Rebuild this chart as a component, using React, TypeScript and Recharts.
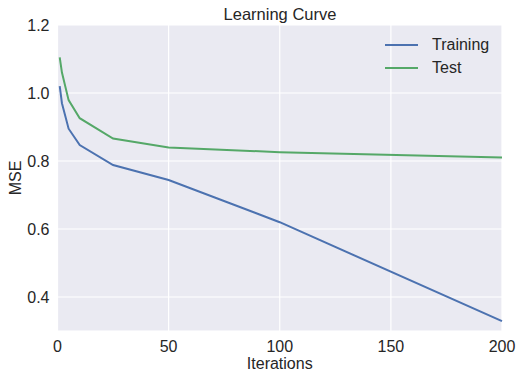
import { LineChart, Line, XAxis, YAxis, CartesianGrid } from "recharts";

const iterations = [1, 2, 5, 10, 25, 50, 100, 200];
const trainingMse = [1.02, 0.97, 0.895, 0.847, 0.788, 0.744, 0.62, 0.329];
const testMse = [1.105, 1.06, 0.979, 0.926, 0.866, 0.84, 0.826, 0.81];
const xTicks = [0, 50, 100, 150, 200];
const yTicks = [0.4, 0.6, 0.8, 1.0, 1.2];
const seriesNames = ["Training", "Test"];

const data = iterations.map((it, i) => ({
  iter: it,
  training: trainingMse[i],
  test: testMse[i],
}));

const FONT = "'Liberation Sans', Arial, sans-serif";
const BLUE = "#4C72B0";
const GREEN = "#55A868";
const TEXT = "#262626";

const App = () => {
  const colors = [BLUE, GREEN];
  return (
    <div style={{ position: "absolute", left: 0, top: 0, width: 523, height: 380, background: "#fff" }}>
      <LineChart
        width={523}
        height={380}
        data={data}
        margin={{ top: 25, right: 21, bottom: 0, left: 0 }}
      >
        <CartesianGrid fill="#EAEAF2" stroke="#ffffff" strokeWidth={1.2} />
        <XAxis
          dataKey="iter"
          type="number"
          domain={[0, 200]}
          ticks={xTicks}
          axisLine={false}
          tickLine={false}
          height={49}
          tick={{ fontFamily: FONT, fontSize: 16, fill: TEXT }}
          tickMargin={4}
          label={{
            value: "Iterations",
            position: "insideBottom",
            offset: 11,
            style: { fontFamily: FONT, fontSize: 16, fill: TEXT },
          }}
        />
        <YAxis
          type="number"
          domain={[0.3, 1.2]}
          ticks={yTicks}
          allowDataOverflow
          axisLine={false}
          tickLine={false}
          width={57.5}
          tickFormatter={(v: number) => v.toFixed(1)}
          tick={{ fontFamily: FONT, fontSize: 16, fill: TEXT }}
          tickMargin={2}
          label={{
            value: "MSE",
            angle: -90,
            position: "insideLeft",
            offset: 15,
            style: { fontFamily: FONT, fontSize: 16, fill: TEXT, textAnchor: "middle" },
          }}
        />
        <Line
          type="linear"
          dataKey="training"
          name="Training"
          stroke={BLUE}
          strokeWidth={2}
          dot={false}
          isAnimationActive={false}
        />
        <Line
          type="linear"
          dataKey="test"
          name="Test"
          stroke={GREEN}
          strokeWidth={2}
          dot={false}
          isAnimationActive={false}
        />
      </LineChart>
      <div
        style={{
          position: "absolute",
          left: 58,
          width: 444,
          top: 5,
          textAlign: "center",
          fontFamily: FONT,
          fontSize: 16.5,
          color: TEXT,
        }}
      >
        Learning Curve
      </div>
      <div style={{ position: "absolute", left: 385, top: 33, fontFamily: FONT, fontSize: 16, color: TEXT }}>
        {seriesNames.map((name, i) => (
          <div key={name} style={{ display: "flex", alignItems: "center", height: 23 }}>
            <div style={{ width: 33, height: 2, background: colors[i], marginRight: 14 }} />
            <span>{name}</span>
          </div>
        ))}
      </div>
    </div>
  );
};

export default App;
